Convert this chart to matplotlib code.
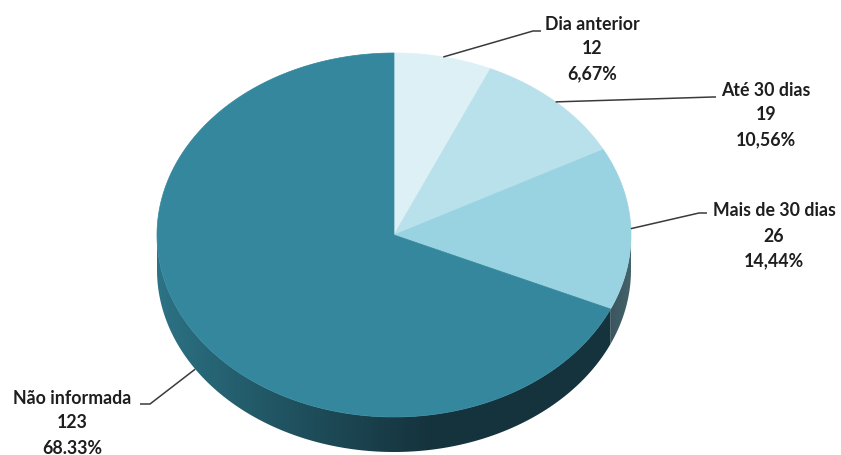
import numpy as np
import matplotlib
matplotlib.use("Agg")
import matplotlib.pyplot as plt
from matplotlib.patches import Polygon
from matplotlib.colors import to_rgb

# Data
categories = ["Dia anterior", "Até 30 dias", "Mais de 30 dias", "Não informada"]
counts = [12, 19, 26, 123]
pct_labels = ["6,67%", "10,56%", "14,44%", "68.33%"]

# Styling
top_colors = ["#ddf0f6", "#b9e1eb", "#99d3e1", "#34879d"]
side_light = ["#c3dde4", "#9cc6d1", "#3a555d", "#2c7486"]
side_dark = ["#c3dde4", "#9cc6d1", "#46646c", "#15333d"]
text_color = "#1e1e1e"
line_color = "#3a3a3a"

W, H = 841, 455
fig = plt.figure(figsize=(W / 100, H / 100), dpi=100)
ax = fig.add_axes([0, 0, 1, 1])
ax.set_xlim(0, W)
ax.set_ylim(H, 0)
ax.axis("off")

# Pie geometry (pixel space): ellipse centre, radii and thickness
cx, cy, rx, ry, depth = 394, 235, 237, 182, 35


def rim(phi_deg, dz=0.0):
    p = np.radians(phi_deg)
    return cx + rx * np.sin(p), cy - ry * np.cos(p) + dz


total = float(sum(counts))
bounds = np.concatenate([[0.0], np.cumsum(counts) / total * 360.0])


def gradient_image(c1, c2, reach=1.0, power=1.0):
    """Horizontal ramp from c1 to c2, reaching c2 at fraction `reach`."""
    xs = np.clip(np.linspace(0, 1, 400) / reach, 0, 1) ** power
    a, b = np.array(to_rgb(c1)), np.array(to_rgb(c2))
    img = a[None, :] + (b - a)[None, :] * xs[:, None]
    return img[None, :, :]


# Side walls (only the front half, 90..270 degrees clockwise from top)
for i in range(len(counts)):
    a, b = max(bounds[i], 90.0), min(bounds[i + 1], 270.0)
    if b <= a:
        continue
    phis = np.linspace(a, b, 200)
    top = [rim(p) for p in phis]
    bot = [rim(p, depth) for p in phis[::-1]]
    poly = Polygon(top + bot, closed=True, facecolor="none", edgecolor="none")
    ax.add_patch(poly)
    xs = [p[0] for p in top]
    x0, x1 = min(xs) - 1, max(xs) + 1
    if i == len(counts) - 1:
        img = gradient_image(side_light[i], side_dark[i], reach=0.6, power=0.9)
    else:
        img = gradient_image(side_light[i], side_dark[i])
    im = ax.imshow(img, extent=(x0, x1, cy + ry + depth + 2, cy - 2),
                   aspect="auto", interpolation="bilinear", zorder=1)
    im.set_clip_path(poly)

ax.set_xlim(0, W)
ax.set_ylim(H, 0)

# Top surface wedges
for i in range(len(counts)):
    phis = np.linspace(bounds[i], bounds[i + 1], max(int(counts[i] * 4), 8))
    pts = [(cx, cy)] + [rim(p) for p in phis]
    ax.add_patch(Polygon(pts, closed=True, facecolor=top_colors[i],
                         edgecolor=top_colors[i], lw=0.5, zorder=2))

# Labels with leader lines
label_pos = [(592, 24), (766, 90), (774, 211), (72, 398)]
elbows = [((533, 31), (541, 31)), ((713, 97), (716, 97)),
          ((699, 213), (707, 213)), ((150, 404), (140, 404))]
line_gap = 25
for i, cat in enumerate(categories):
    mid = 0.5 * (bounds[i] + bounds[i + 1])
    dz = depth if 90 < mid < 270 else 0.0
    ax_, ay_ = rim(mid, dz)
    (ex, ey), (hx, hy) = elbows[i]
    ax.plot([ax_, ex, hx], [ay_, ey, hy], color=line_color, lw=1.1,
            solid_capstyle="butt", zorder=3)
    tx, ty = label_pos[i]
    for k, s in enumerate([cat, str(counts[i]), pct_labels[i]]):
        ax.text(tx, ty + k * line_gap, s, ha="center", va="center",
                fontsize=12.8, fontweight="bold", family=["Lato", "DejaVu Sans"],
                color=text_color, zorder=4)

fig.savefig("out.png", dpi=100, facecolor="white")
